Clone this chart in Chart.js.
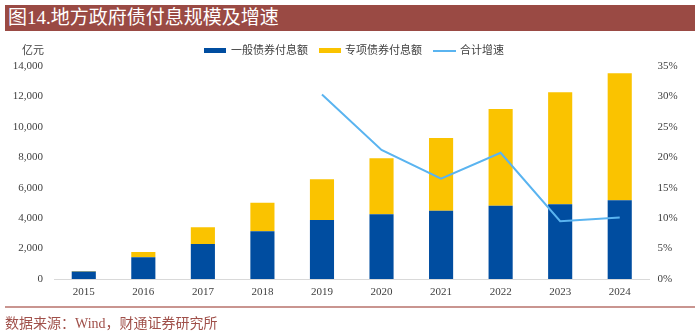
<!DOCTYPE html>
<html><head><meta charset="utf-8">
<script src="https://cdn.jsdelivr.net/npm/chart.js@4/dist/chart.umd.min.js"></script>
<style>
html,body{margin:0;padding:0;background:#fff;width:700px;height:335px;overflow:hidden;font-family:"Liberation Serif","Noto Sans CJK SC",serif;}
#wrap{position:relative;width:700px;height:335px;}
#title{position:absolute;left:5px;top:5px;width:690px;height:26px;background:#9a4a44;color:#fff;font-size:19px;line-height:26px;padding-left:3px;box-sizing:border-box;white-space:nowrap;}
#unit{position:absolute;left:22px;top:41px;font-size:11px;color:#404040;}
.lg{position:absolute;top:43px;font-size:11px;color:#404040;white-space:nowrap;line-height:14px;}
.sw{position:absolute;}
#foot{position:absolute;left:5px;top:306px;width:690px;height:2px;background:#c99590;}
#src{position:absolute;left:5px;top:312px;font-size:14px;color:#a0504a;white-space:nowrap;}
canvas{position:absolute;left:0;top:0;}
</style></head>
<body><div id="wrap">
<canvas id="c" width="700" height="335"></canvas>
<div id="title">图14.地方政府债付息规模及增速</div>
<div id="unit">亿元</div>
<div class="sw" style="left:204px;top:48px;width:22px;height:5px;background:#004da0"></div>
<div class="lg" style="left:231px">一般债券付息额</div>
<div class="sw" style="left:319px;top:48px;width:22px;height:5px;background:#fac300"></div>
<div class="lg" style="left:345px">专项债券付息额</div>
<div class="sw" style="left:433px;top:50px;width:23px;height:2px;background:#5ab4f0"></div>
<div class="lg" style="left:460px">合计增速</div>
<div id="foot"></div>
<div id="src">数据来源：Wind，财通证券研究所</div>
</div>
<script>
const categories = ["2015","2016","2017","2018","2019","2020","2021","2022","2023","2024"];
const generalInterest = [495, 1427, 2300, 3135, 3880, 4254, 4491, 4820, 4911, 5174];
const specialInterest = [30, 348, 1100, 1882, 2675, 3681, 4779, 6357, 7363, 8350];
const totalGrowth = [null, null, null, null, 30.3, 21.2, 16.5, 20.75, 9.5, 10.1];
const leftTicks = [0, 2000, 4000, 6000, 8000, 10000, 12000, 14000];
const rightTicks = [0, 5, 10, 15, 20, 25, 30, 35];

const tickFont = {family: "Liberation Serif", size: 11};
new Chart(document.getElementById('c'), {
  data: {
    labels: categories,
    datasets: [
      {type:'line', label:'合计增速', data: totalGrowth, yAxisID:'y1', borderColor:'#5ab4f0', backgroundColor:'#5ab4f0', borderWidth:2, pointRadius:0, tension:0, order:0, spanGaps:false},
      {type:'bar', label:'一般债券付息额', data: generalInterest, yAxisID:'y', backgroundColor:'#004da0', stack:'s', order:1, categoryPercentage:1, barPercentage:0.405},
      {type:'bar', label:'专项债券付息额', data: specialInterest, yAxisID:'y', backgroundColor:'#fac300', stack:'s', order:1, categoryPercentage:1, barPercentage:0.405}
    ]
  },
  options: {
    responsive:false, animation:false,
    layout:{padding:{top:66, left:0, right:0, bottom:0}},
    plugins:{legend:{display:false}, tooltip:{enabled:false}},
    scales:{
      x:{stacked:true, grid:{display:false, drawTicks:false}, border:{display:true, color:'#d9d9d9', width:1},
         ticks:{font:tickFont, color:'#404040', padding:7},
         afterFit:(s)=>{s.height=56;}},
      y:{stacked:true, position:'left', min:0, max:14000,
         afterBuildTicks:(s)=>{s.ticks = leftTicks.map(v=>({value:v}));},
         grid:{display:false, drawTicks:false}, border:{display:false},
         ticks:{font:tickFont, color:'#404040', padding:11, callback:(v)=>v.toLocaleString('en-US')},
         afterFit:(s)=>{s.width=54;}},
      y1:{position:'right', min:0, max:35,
         afterBuildTicks:(s)=>{s.ticks = rightTicks.map(v=>({value:v}));},
         grid:{display:false, drawTicks:false}, border:{display:false},
         ticks:{font:tickFont, color:'#404040', padding:8, callback:(v)=>v+'%'},
         afterFit:(s)=>{s.width=50.5;}}
    }
  }
});
</script>
</body></html>
